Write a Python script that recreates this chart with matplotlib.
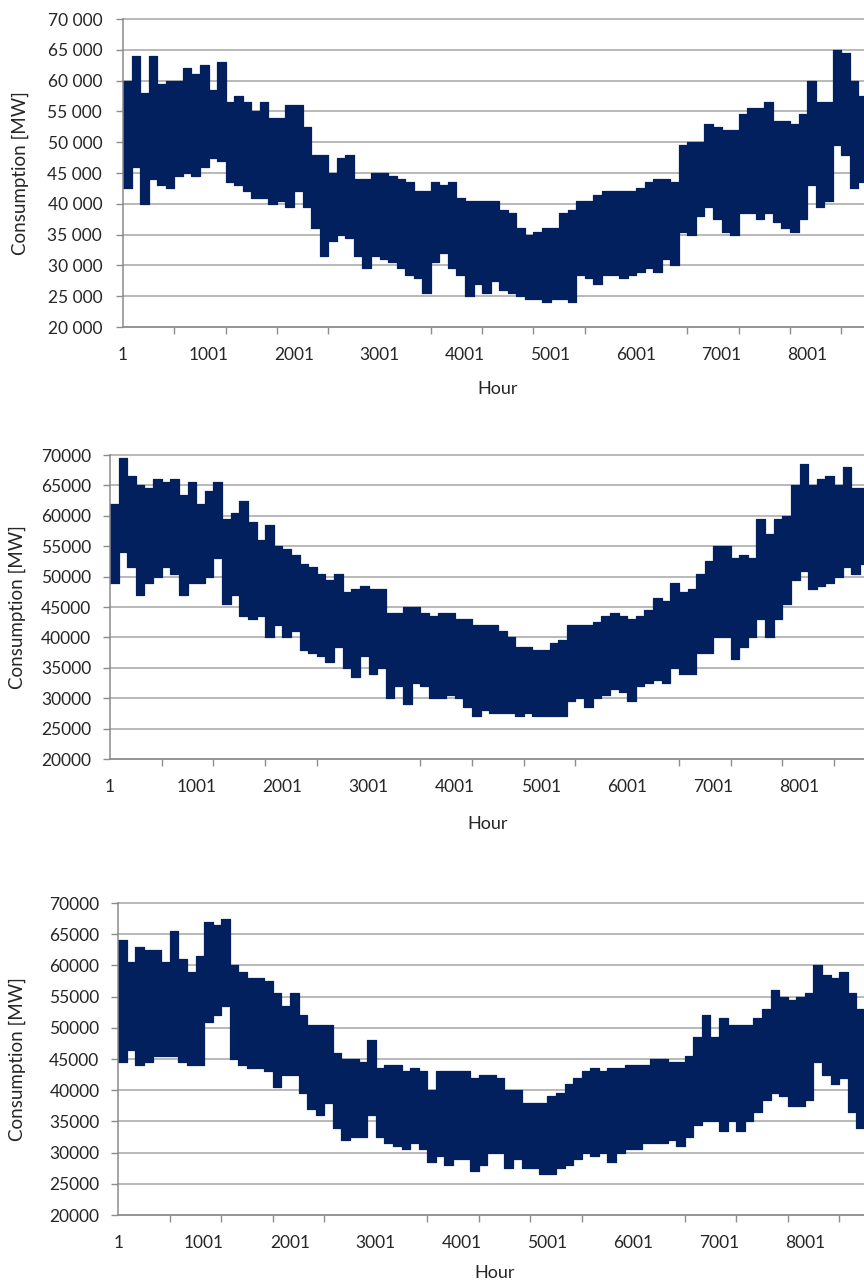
import matplotlib
matplotlib.use("Agg")
import matplotlib.pyplot as plt
import numpy as np

plt.rcParams['font.family'] = ['Lato', 'DejaVu Sans']

# Hour bins (start hour of each 100-hour bin)
BIN_START = list(range(1, 8702, 100))
HOUR_END = 8760

# Chart A (top) - envelope, per 100-hour bin
A_HIGH = [60000, 64000, 58000, 64000, 59500, 60000, 60000, 62000, 61000, 62500,
          58500, 63000, 56500, 57500, 56500, 55000, 56500, 54000, 54000, 56000,
          56000, 52500, 48000, 48000, 45000, 47500, 48000, 44000, 44000, 45000,
          45000, 44500, 44000, 43500, 42000, 42000, 43500, 43000, 43500, 41000,
          40500, 40500, 40500, 40500, 39000, 38500, 36000, 35000, 35500, 36000,
          36000, 38500, 39000, 40500, 40500, 41500, 42000, 42000, 42000, 42000,
          42500, 43500, 44000, 44000, 43500, 49500, 50000, 50000, 53000, 52500,
          52000, 52000, 54500, 55500, 55500, 56500, 53500, 53500, 53000, 54500,
          60000, 56500, 56500, 65000, 64500, 60000, 57500, 57500]
A_LOW = [42500, 46000, 40000, 44000, 43000, 42500, 44500, 45000, 44500, 46000,
         47500, 47000, 43500, 43000, 42000, 41000, 41000, 40000, 40500, 39500,
         42000, 39500, 36000, 31500, 34000, 35000, 34500, 31500, 29500, 31500,
         31000, 30500, 29500, 28500, 28000, 25500, 30500, 32000, 29500, 28500,
         25000, 27000, 25500, 27500, 26000, 25500, 25000, 24500, 24500, 24000,
         24500, 24500, 24000, 28500, 28000, 27000, 28500, 28500, 28000, 28500,
         29000, 29500, 29000, 31000, 30000, 35500, 35000, 38000, 39500, 37500,
         35500, 35000, 38500, 38500, 37500, 38500, 37000, 36000, 35500, 37500,
         43000, 39500, 40500, 49500, 48000, 42500, 43500, 43500]

# Chart B (middle)
B_HIGH = [62000, 69500, 66500, 65000, 64500, 66000, 65500, 66000, 63500, 65500,
          62000, 64000, 65500, 59500, 60500, 62500, 59000, 56000, 58500, 55000,
          54500, 53500, 52000, 51500, 50500, 49500, 50500, 47500, 48000, 48500,
          48000, 48000, 44000, 44000, 45000, 45000, 44000, 43500, 44000, 44000,
          43000, 43000, 42000, 42000, 42000, 41000, 40000, 38500, 38500, 38000,
          38000, 39000, 39500, 42000, 42000, 42000, 42500, 43500, 44000, 43500,
          43000, 43500, 44500, 46500, 46000, 49000, 47500, 48000, 50500, 52500,
          55000, 55000, 53000, 53500, 53000, 59500, 57000, 59500, 60000, 65000,
          68500, 65000, 66000, 66500, 65000, 68000, 64500, 64500]
B_LOW = [49000, 54000, 51500, 47000, 49000, 50000, 51500, 50500, 47000, 49000,
         49000, 50000, 53000, 45500, 47000, 43500, 43000, 43500, 40000, 42000,
         40000, 41000, 38000, 37500, 37000, 36000, 38500, 35000, 33500, 37000,
         34000, 35000, 30000, 32000, 29000, 32500, 32000, 30000, 30000, 30500,
         30000, 28500, 27000, 28000, 27500, 27500, 27500, 27000, 27500, 27000,
         27000, 27000, 27000, 29500, 30000, 28500, 30000, 30500, 31500, 31000,
         29500, 32000, 32500, 33000, 32500, 35000, 34000, 34000, 37500, 37500,
         40000, 40000, 36500, 38500, 40000, 43000, 40000, 43000, 45500, 49500,
         51000, 48000, 48500, 49000, 50000, 51500, 50500, 52000]

# Chart C (bottom)
C_HIGH = [64000, 60500, 63000, 62500, 62500, 60500, 65500, 61000, 59000, 61500,
          67000, 66500, 67500, 60000, 59000, 58000, 58000, 57500, 55500, 53500,
          55500, 52000, 50500, 50500, 50500, 46000, 45000, 45000, 44500, 48000,
          43500, 44000, 44000, 43000, 43500, 43000, 40000, 43000, 43000, 43000,
          43000, 42000, 42500, 42500, 42000, 40000, 40000, 38000, 38000, 38000,
          39000, 39500, 41000, 42000, 43000, 43500, 43000, 43500, 43500, 44000,
          44000, 44000, 45000, 45000, 44500, 44500, 45500, 48500, 52000, 48500,
          51500, 50500, 50500, 50500, 51500, 53000, 56000, 55000, 54500, 55000,
          55500, 60000, 58500, 58000, 59000, 55500, 53000, 53000]
C_LOW = [44500, 46500, 44000, 44500, 45500, 45500, 45500, 44500, 44000, 44000,
         51000, 52000, 53500, 45000, 44000, 43500, 43500, 43000, 40500, 42500,
         42500, 39500, 37000, 36000, 38000, 34000, 32000, 32500, 32500, 36000,
         32500, 31500, 31000, 30500, 31500, 30500, 28500, 29500, 28000, 29000,
         29000, 27000, 28000, 30000, 30000, 27500, 29000, 27500, 27500, 26500,
         26500, 27500, 28000, 29000, 30000, 29500, 30000, 28500, 30000, 30500,
         30500, 31500, 31500, 31500, 32000, 31000, 32500, 34500, 35000, 35000,
         33500, 35000, 33500, 35000, 36500, 38500, 39500, 39000, 37500, 37500,
         38500, 44500, 42500, 41000, 42000, 36500, 34000, 34000]

Y_TICKS = list(range(20000, 70001, 5000))
X_LABEL_TICKS = list(range(1, 8002, 1000))
X_MARK_TICKS = list(range(1, 8402, 600))

NAVY = '#03205e'
GRID = '#a6a6a6'
AXIS = '#8c8c8c'
TEXT = '#262626'

W, H = 864, 1282
fig = plt.figure(figsize=(W / 100, H / 100), dpi=100)

# (left px, top px, right px, bottom px, thousands sep, highs, lows, ylabel x px, xlabel gap px, ypad)
panels = [
    (123, 19, 872, 327, True, A_HIGH, A_LOW, 20, 62, 10),
    (110, 455, 865, 759, False, B_HIGH, B_LOW, 17, 65, 8.6),
    (118.3, 903, 870, 1215, False, C_HIGH, C_LOW, 17, 58, 8.6),
]

for (l, t, r, b, sep, hi, lo, ylx, xlgap, ypad) in panels:
    ax = fig.add_axes([l / W, (H - b) / H, (r - l) / W, (b - t) / H])
    x = np.array(BIN_START + [HOUR_END])
    yh = np.array(hi + [hi[-1]])
    yl = np.array(lo + [lo[-1]])
    ax.fill_between(x, yl, yh, step='post', color=NAVY, linewidth=0.9,
                    edgecolor=NAVY, zorder=3)
    ax.set_xlim(1, HOUR_END)
    ax.set_ylim(20000, 70000)
    ax.set_yticks(Y_TICKS)
    if sep:
        ax.set_yticklabels([f"{v:,}".replace(",", " ") for v in Y_TICKS])
    else:
        ax.set_yticklabels([str(v) for v in Y_TICKS])
    ax.set_xticks(X_LABEL_TICKS)
    ax.set_xticklabels([str(v) for v in X_LABEL_TICKS])
    ax.set_xticks(X_MARK_TICKS, minor=True)
    ax.tick_params(axis='x', which='major', length=0, pad=14.5,
                   labelsize=12.5, labelcolor=TEXT)
    ax.tick_params(axis='x', which='minor', length=5, width=1.0, color=AXIS)
    ax.tick_params(axis='y', which='major', length=5, width=1.0, color=AXIS,
                   pad=ypad, labelsize=12.5, labelcolor=TEXT)
    ax.grid(axis='y', color=GRID, linewidth=1.1, zorder=1)
    for gl in ax.get_ygridlines():
        gl.set_clip_on(False)
    ax.set_axisbelow(True)
    for s in ('top', 'right'):
        ax.spines[s].set_visible(False)
    for s in ('left', 'bottom'):
        ax.spines[s].set_color(AXIS)
        ax.spines[s].set_linewidth(1.1)
        ax.spines[s].set_zorder(4)
    ax.set_ylabel("Consumption [MW]", fontsize=13.5, color=TEXT)
    ax.yaxis.set_label_coords((ylx - l) / (r - l), 0.5)
    ax.set_xlabel("Hour", fontsize=13, color=TEXT)
    ax.xaxis.set_label_coords(0.5, -xlgap / (b - t))
    ax.xaxis.label.set_verticalalignment('center')
    ax.yaxis.label.set_verticalalignment('center')

fig.savefig("out.png", dpi=100)
